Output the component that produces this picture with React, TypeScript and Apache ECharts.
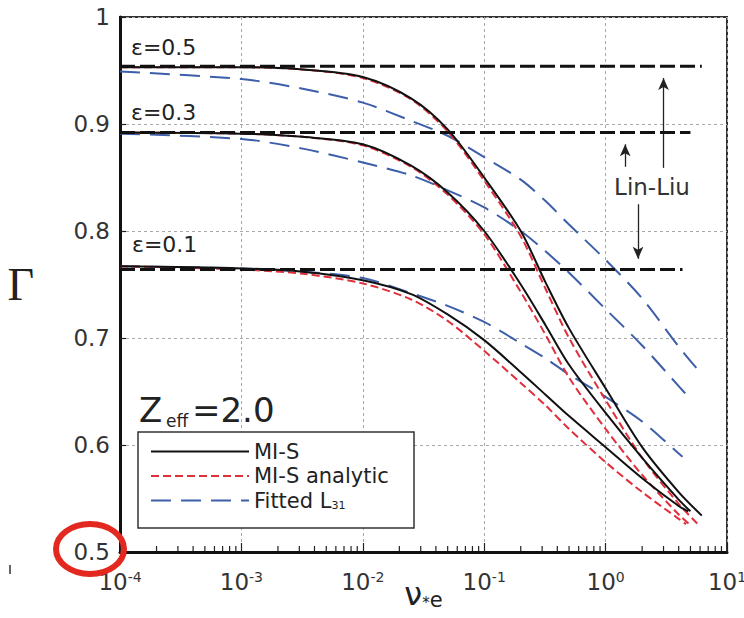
import React, { useEffect, useRef } from "react";
import * as echarts from "echarts";

const FONT = "'DejaVu Sans', sans-serif";

// ---- data (ν*e values and Γ values) ----
const NU_MIS_05 = [0.0001, 0.001, 0.0032, 0.01, 0.025, 0.05, 0.1, 0.2, 0.32, 0.5, 1, 2, 4, 6.2];
const G_MIS_05 = [0.953, 0.953, 0.951, 0.944, 0.924, 0.895, 0.85, 0.8, 0.752, 0.709, 0.653, 0.598, 0.556, 0.534];
const NU_MIS_03 = [0.0001, 0.001, 0.0032, 0.01, 0.025, 0.05, 0.1, 0.2, 0.32, 0.5, 1, 2, 4, 5.0];
const G_MIS_03 = [0.892, 0.891, 0.888, 0.881, 0.861, 0.836, 0.8, 0.75, 0.712, 0.675, 0.63, 0.588, 0.549, 0.538];
const NU_MIS_01 = [0.0001, 0.001, 0.0032, 0.01, 0.025, 0.05, 0.1, 0.2, 0.32, 0.5, 1, 2, 4, 4.8];
const G_MIS_01 = [0.767, 0.765, 0.762, 0.754, 0.741, 0.722, 0.698, 0.668, 0.647, 0.627, 0.598, 0.569, 0.543, 0.538];

const NU_AN_05 = [0.0001, 0.001, 0.0032, 0.01, 0.025, 0.05, 0.1, 0.2, 0.32, 0.5, 1, 2, 4, 5.75];
const G_AN_05 = [0.953, 0.953, 0.951, 0.943, 0.923, 0.893, 0.847, 0.795, 0.746, 0.7, 0.642, 0.588, 0.545, 0.526];
const NU_AN_03 = [0.0001, 0.001, 0.0032, 0.01, 0.025, 0.05, 0.1, 0.2, 0.32, 0.5, 1, 2, 4, 5.0];
const G_AN_03 = [0.892, 0.891, 0.888, 0.88, 0.86, 0.834, 0.797, 0.743, 0.703, 0.663, 0.615, 0.572, 0.535, 0.525];
const NU_AN_01 = [0.0001, 0.001, 0.0032, 0.01, 0.025, 0.05, 0.1, 0.2, 0.32, 0.5, 1, 2, 4, 4.6];
const G_AN_01 = [0.767, 0.764, 0.76, 0.751, 0.736, 0.716, 0.688, 0.658, 0.637, 0.615, 0.584, 0.556, 0.531, 0.526];

const NU_FIT_05 = [0.0001, 0.001, 0.0032, 0.01, 0.025, 0.05, 0.1, 0.2, 0.32, 0.5, 1, 2, 4, 6.2];
const G_FIT_05 = [0.949, 0.942, 0.933, 0.92, 0.903, 0.889, 0.869, 0.848, 0.828, 0.806, 0.773, 0.737, 0.692, 0.666];
const NU_FIT_03 = [0.0001, 0.001, 0.0032, 0.01, 0.025, 0.05, 0.1, 0.2, 0.32, 0.5, 1, 2, 4, 4.8];
const G_FIT_03 = [0.891, 0.886, 0.877, 0.864, 0.852, 0.838, 0.822, 0.8, 0.781, 0.761, 0.727, 0.693, 0.655, 0.645];
const NU_FIT_01 = [0.0001, 0.001, 0.0032, 0.01, 0.025, 0.05, 0.1, 0.2, 0.32, 0.5, 1, 2, 4, 4.3];
const G_FIT_01 = [0.767, 0.765, 0.762, 0.756, 0.742, 0.73, 0.715, 0.695, 0.681, 0.666, 0.645, 0.622, 0.592, 0.589];

// Lin-Liu constant levels
const LINLIU_NU_START = [0.0001, 0.0001, 0.0001];
const LINLIU_NU_END = [6.2, 5.0, 4.3];
const LINLIU_G = [0.954, 0.892, 0.764];

// Arrows for the Lin-Liu annotation
const ARROW_NU = [3.0, 1.45, 1.85];
const ARROW_FROM = [0.859, 0.86, 0.825];
const ARROW_TO = [0.943, 0.881, 0.774];

const Y_MIN = 0.5;
const Y_MAX = 1;
const Y_STEP = 0.1;
const X_MIN = 0.0001;
const X_MAX = 10;
const MINOR_DECADES = [0.0001, 0.001, 0.01, 0.1, 1];
const MINOR_MULT = [2, 3, 4, 5, 6, 7, 8, 9];

const EPS_LABELS = ["ε=0.5", "ε=0.3", "ε=0.1"];
const LEGEND_NAMES = ["MI-S", "MI-S analytic", "Fitted L31"];

const pairs = (xs: number[], ys: number[]) => xs.map((x, i) => [x, ys[i]]);

const BLACK = "#111111";
const RED = "#e0303c";
const BLUE = "#3d5ea8";

function lineSeries(name: string, xs: number[], ys: number[], color: string, type: any, width: number, z: number) {
  return {
    type: "line",
    name,
    data: pairs(xs, ys),
    showSymbol: false,
    symbol: "none",
    smooth: 0.3,
    z,
    lineStyle: { color, width, type },
    itemStyle: { color },
    silent: true,
  };
}

export default function App() {
  const ref = useRef<HTMLDivElement>(null);
  useEffect(() => {
    const chart = echarts.init(ref.current!, null, { renderer: "svg" });

    const minorTicks: number[][] = [];
    MINOR_DECADES.forEach((d) => MINOR_MULT.forEach((m) => minorTicks.push([m * d, Y_MIN])));

    const series: any[] = [
      lineSeries("Fitted L31", NU_FIT_05, G_FIT_05, BLUE, [20, 10], 2, 2),
      lineSeries("Fitted L31", NU_FIT_03, G_FIT_03, BLUE, [20, 10], 2, 2),
      lineSeries("Fitted L31", NU_FIT_01, G_FIT_01, BLUE, [20, 10], 2, 2),
      lineSeries("MI-S analytic", NU_AN_05, G_AN_05, RED, [8, 4], 2, 3),
      lineSeries("MI-S analytic", NU_AN_03, G_AN_03, RED, [8, 4], 2, 3),
      lineSeries("MI-S analytic", NU_AN_01, G_AN_01, RED, [8, 4], 2, 3),
      lineSeries("MI-S", NU_MIS_05, G_MIS_05, BLACK, "solid", 2, 4),
      lineSeries("MI-S", NU_MIS_03, G_MIS_03, BLACK, "solid", 2, 4),
      lineSeries("MI-S", NU_MIS_01, G_MIS_01, BLACK, "solid", 2, 4),
    ];
    LINLIU_G.forEach((g, i) => {
      const s: any = {
        type: "line",
        name: "Lin-Liu",
        data: [
          [LINLIU_NU_START[i], g],
          [LINLIU_NU_END[i], g],
        ],
        showSymbol: false,
        symbol: "none",
        z: 5,
        silent: true,
        lineStyle: { color: BLACK, width: 3, type: [15, 5] },
      };
      if (i === 0) {
        s.markLine = {
          silent: true,
          symbol: ["none", "arrow"],
          symbolSize: [8, 12],
          label: { show: false },
          lineStyle: { type: "solid", color: "#222", width: 1.3 },
          data: ARROW_NU.map((x, k) => [{ coord: [x, ARROW_FROM[k]] }, { coord: [x, ARROW_TO[k]] }]),
        };
      }
      series.push(s);
    });
    series.push({
      type: "custom",
      name: "minor",
      silent: true,
      clip: false,
      z: 6,
      data: minorTicks,
      encode: { x: 0, y: 1 },
      renderItem: (params: any, api: any) => {
        const p = api.coord([api.value(0), api.value(1)]);
        return {
          type: "line",
          shape: { x1: p[0], y1: p[1] - 1, x2: p[0], y2: p[1] - 6 },
          style: { stroke: "#222", lineWidth: 1.2 },
        };
      },
    });

    const gridLine = { show: true, lineStyle: { color: "#a8a8a8", type: [3, 3], width: 1 } };

    const option: any = {
      animation: false,
      backgroundColor: "#ffffff",
      textStyle: { fontFamily: FONT },
      grid: {
        left: 120,
        right: 17,
        top: 17,
        bottom: 66,
        show: true,
        borderColor: "#333",
        borderWidth: 2,
        containLabel: false,
        outerBoundsMode: "none",
      },
      xAxis: {
        type: "log",
        logBase: 10,
        min: X_MIN,
        max: X_MAX,
        axisLine: { show: true, lineStyle: { color: BLACK, width: 3 } },
        axisTick: { show: true, inside: true, length: 9, lineStyle: { color: "#222", width: 1.2 } },
        splitLine: gridLine,
        minorTick: { show: false },
        axisLabel: {
          margin: 18,
          color: "#333",
          hideOverlap: false,
          formatter: (v: number) => `{b|10}{s|${Math.round(Math.log10(v))}}`,
          rich: {
            b: { fontSize: 23, fontFamily: FONT, color: "#333" },
            s: { fontSize: 14, fontFamily: FONT, color: "#333", verticalAlign: "top" },
          },
        },
        name: "{n|ν}{a|*}{e|e}",
        nameLocation: "middle",
        nameGap: 26,
        nameMoveOverlap: false,
        nameTextStyle: {
          rich: {
            n: { fontSize: 32, fontFamily: FONT, color: "#222" },
            a: { fontSize: 15, fontFamily: FONT, color: "#222", verticalAlign: "bottom" },
            e: { fontSize: 21, fontFamily: FONT, color: "#222", verticalAlign: "bottom" },
          },
        },
      },
      yAxis: {
        type: "value",
        min: Y_MIN,
        max: Y_MAX,
        interval: Y_STEP,
        axisLine: { show: true, lineStyle: { color: BLACK, width: 3 } },
        axisTick: { show: true, inside: true, length: 6, lineStyle: { color: "#222", width: 1.2 } },
        splitLine: gridLine,
        axisLabel: {
          margin: 10,
          fontSize: 23,
          fontFamily: FONT,
          color: "#333",
          formatter: (v: number) => (Math.abs(v - 1) < 1e-9 ? "1" : v.toFixed(1)),
        },
        name: "Γ",
        nameLocation: "middle",
        nameRotate: 0,
        nameGap: 86,
        nameMoveOverlap: false,
        nameTextStyle: { fontSize: 46, fontFamily: "'Liberation Serif', serif", color: "#222" },
      },
      legend: {
        orient: "vertical",
        left: 145,
        top: 436,
        itemWidth: 98,
        itemHeight: 14,
        itemGap: 3.5,
        selectedMode: false,
        data: LEGEND_NAMES,
        itemStyle: { opacity: 0 },
        textStyle: {
          fontSize: 21,
          fontFamily: FONT,
          color: "#222",
          rich: { sub: { fontSize: 11, fontFamily: FONT, color: "#222", verticalAlign: "bottom" } },
        },
        formatter: (n: string) => (n === "Fitted L31" ? "Fitted L{sub|31}" : n),
      },
      graphic: [
        { type: "rect", z: 3, shape: { x: 138, y: 432, width: 276, height: 96 }, style: { fill: "#fff", stroke: "#333", lineWidth: 1.5 } },
        { type: "text", z: 10, style: { text: EPS_LABELS[0], x: 131, y: 47, verticalAlign: "middle", font: `22px ${FONT}`, fill: "#222" } },
        { type: "text", z: 10, style: { text: EPS_LABELS[1], x: 131, y: 112, verticalAlign: "middle", font: `22px ${FONT}`, fill: "#222" } },
        { type: "text", z: 10, style: { text: EPS_LABELS[2], x: 132, y: 244, verticalAlign: "middle", font: `22px ${FONT}`, fill: "#222" } },
        { type: "text", z: 10, style: { text: "Lin-Liu", x: 652, y: 187, align: "center", verticalAlign: "middle", font: `23px ${FONT}`, fill: "#333" } },
        { type: "text", z: 10, style: { text: "Z", x: 139, y: 410, verticalAlign: "middle", font: `34px ${FONT}`, fill: "#222" } },
        { type: "text", z: 10, style: { text: "eff", x: 166, y: 421, verticalAlign: "middle", font: `17px ${FONT}`, fill: "#222" } },
        { type: "text", z: 10, style: { text: "=2.0", x: 192, y: 410, verticalAlign: "middle", font: `34px ${FONT}`, fill: "#222" } },
        { type: "ellipse", z: 20, shape: { cx: 90, cy: 549, rx: 34, ry: 25 }, style: { fill: "transparent", stroke: "#e3281f", lineWidth: 6 } },
        { type: "rect", z: 10, shape: { x: 9, y: 565, width: 2, height: 9 }, style: { fill: "#666" } },
      ],
      series,
    };
    chart.setOption(option);
    return () => chart.dispose();
  }, []);
  return <div ref={ref} style={{ position: "fixed", left: 0, top: 0, width: 744, height: 618 }} />;
}
